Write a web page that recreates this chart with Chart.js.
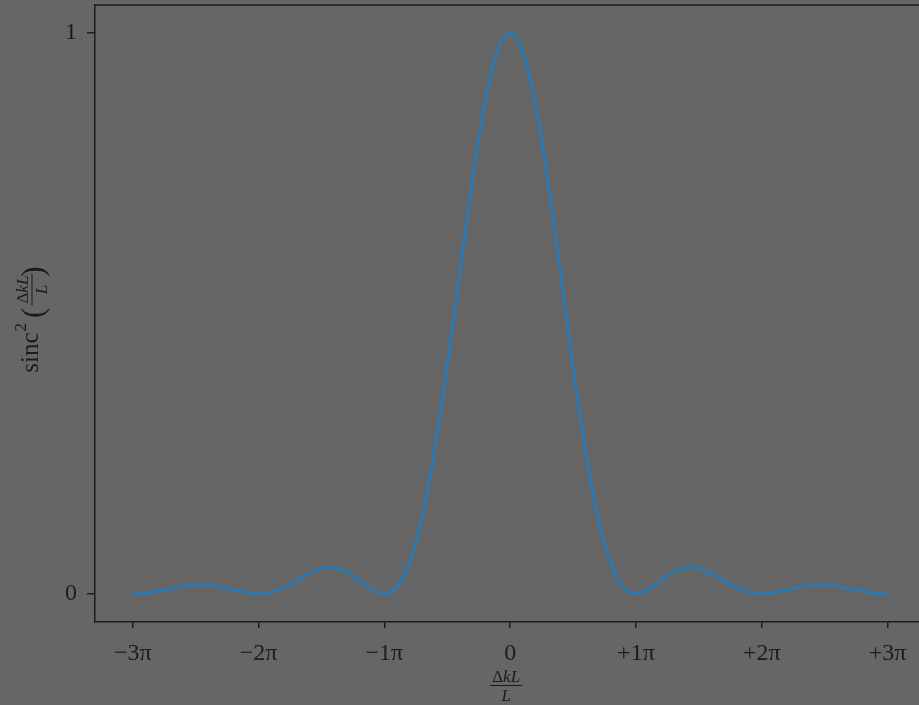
<!DOCTYPE html>
<html>
<head>
<meta charset="utf-8">
<script src="https://cdn.jsdelivr.net/npm/chart.js@4/dist/chart.umd.min.js"></script>
<style>
  html, body { margin: 0; padding: 0; background: #666666; overflow: hidden; }
  canvas { display: block; }
</style>
</head>
<body>
<canvas id="c" width="919" height="705"></canvas>
<script>
// Horizontal position in units of pi
const xPi = [
  -3, -2.875, -2.75, -2.625, -2.5, -2.46, -2.375, -2.25, -2.125,
  -2, -1.875, -1.75, -1.625, -1.5, -1.43, -1.375, -1.25, -1.125,
  -1, -0.875, -0.75, -0.625, -0.5, -0.375, -0.25, -0.125,
  0,
  0.125, 0.25, 0.375, 0.5, 0.625, 0.75, 0.875, 1,
  1.125, 1.25, 1.375, 1.43, 1.5, 1.625, 1.75, 1.875, 2,
  2.125, 2.25, 2.375, 2.46, 2.5, 2.625, 2.75, 2.875, 3
];
// Intensity sinc^2 at each position
const intensity = [
  0, 0.0018, 0.0067, 0.0126, 0.0162, 0.0165, 0.0153, 0.0100, 0.0033,
  0, 0.0042, 0.0165, 0.0328, 0.0450, 0.0472, 0.0457, 0.0324, 0.0117,
  0, 0.0194, 0.0901, 0.2214, 0.4053, 0.6150, 0.8106, 0.9497,
  1,
  0.9497, 0.8106, 0.6150, 0.4053, 0.2214, 0.0901, 0.0194, 0,
  0.0117, 0.0324, 0.0457, 0.0472, 0.0450, 0.0328, 0.0165, 0.0042, 0,
  0.0033, 0.0100, 0.0153, 0.0165, 0.0162, 0.0126, 0.0067, 0.0018, 0
];
const xTickValues = [-3, -2, -1, 0, 1, 2, 3];
const xTickLabels = ['\u22123\u03C0', '\u22122\u03C0', '\u22121\u03C0', '0', '+1\u03C0', '+2\u03C0', '+3\u03C0'];
const yTickValues = [0, 1];
const yTickLabels = ['0', '1'];

const INK = '#1c1c1c';
const SERIF = "'Liberation Serif', 'DejaVu Serif', serif";

// Top frame line plus the typeset axis titles
const framePlugin = {
  id: 'frame',
  afterDraw(chart) {
    const ctx = chart.ctx;
    const a = chart.chartArea;
    ctx.save();
    ctx.strokeStyle = INK;
    ctx.lineWidth = 1.5;
    ctx.beginPath();
    ctx.moveTo(a.left, a.top);
    ctx.lineTo(a.right, a.top);
    ctx.stroke();

    ctx.fillStyle = INK;
    ctx.textBaseline = 'alphabetic';

    // x title: fraction  ΔkL / L
    const cx = chart.scales.x.getPixelForValue(0) - 4;
    drawFraction(ctx, cx, 685.5, 17);

    // y title: sinc^2( ΔkL / L ), rotated
    ctx.translate(38, 0);
    ctx.rotate(-Math.PI / 2);
    const big = '25px ' + SERIF;
    const sup = '17px ' + SERIF;
    const par = '31px ' + SERIF;
    ctx.font = big; const wS = ctx.measureText('sinc').width;
    ctx.font = sup; const w2 = ctx.measureText('2').width;
    ctx.font = par; const wP = ctx.measureText('(').width;
    const wF = fractionWidth(ctx, 17);
    const total = wS + 1 + w2 + 5 + wP + 2 + wF + 2 + wP;
    let u = -317 - total / 2;
    ctx.font = big; ctx.textAlign = 'left';
    ctx.fillText('sinc', u, 0); u += wS + 1;
    ctx.font = sup; ctx.fillText('2', u, -12); u += w2 + 5;
    ctx.font = par; ctx.fillText('(', u, 5); u += wP + 2;
    drawFraction(ctx, u + wF / 2, -6, 17); u += wF + 2;
    ctx.font = par; ctx.fillText(')', u, 5);
    ctx.restore();
  }
};

function numeratorParts(size) {
  return [
    { t: '\u0394', f: size + 'px ' + SERIF },
    { t: 'kL', f: 'italic ' + size + 'px ' + SERIF }
  ];
}
function fractionWidth(ctx, size) {
  let w = 0;
  for (const p of numeratorParts(size)) { ctx.font = p.f; w += ctx.measureText(p.t).width; }
  return w + 4;
}
// Fraction centred at (cx, barY)
function drawFraction(ctx, cx, barY, size) {
  const w = fractionWidth(ctx, size);
  let x = cx - (w - 4) / 2;
  ctx.textAlign = 'left';
  for (const p of numeratorParts(size)) {
    ctx.font = p.f;
    ctx.fillText(p.t, x, barY - 4);
    x += ctx.measureText(p.t).width;
  }
  ctx.save();
  ctx.strokeStyle = INK;
  ctx.lineWidth = 1;
  ctx.beginPath();
  ctx.moveTo(cx - w / 2, barY);
  ctx.lineTo(cx + w / 2, barY);
  ctx.stroke();
  ctx.restore();
  ctx.font = 'italic ' + size + 'px ' + SERIF;
  ctx.textAlign = 'center';
  ctx.fillText('L', cx, barY + 15);
}

new Chart(document.getElementById('c'), {
  type: 'line',
  data: {
    datasets: [{
      data: xPi.map((x, i) => ({ x: x, y: intensity[i] })),
      borderColor: '#2a7ab8',
      borderWidth: 3,
      pointRadius: 0,
      cubicInterpolationMode: 'monotone',
      fill: false
    }]
  },
  options: {
    responsive: false,
    devicePixelRatio: 1,
    animation: false,
    layout: { padding: { top: 5, left: 0, right: 0, bottom: 0 } },
    plugins: { legend: { display: false }, tooltip: { enabled: false } },
    scales: {
      x: {
        type: 'linear',
        min: -3.3,
        max: 3.25,
        afterBuildTicks: s => { s.ticks = xTickValues.map(v => ({ value: v })); },
        afterFit: s => { s.height = 83; s.paddingLeft = 0; s.paddingRight = 0; },
        ticks: {
          autoSkip: false,
          maxRotation: 0,
          padding: 11,
          color: INK,
          font: { family: SERIF, size: 24 },
          callback: (v) => xTickLabels[xTickValues.indexOf(v)]
        },
        grid: { drawOnChartArea: false, drawTicks: true, tickLength: 6, color: INK, lineWidth: 1.5 },
        border: { display: true, color: INK, width: 1.5 }
      },
      y: {
        type: 'linear',
        min: -0.05,
        max: 1.05,
        afterBuildTicks: s => { s.ticks = yTickValues.map(v => ({ value: v })); },
        afterFit: s => { s.width = 95; s.paddingTop = 0; s.paddingBottom = 0; },
        ticks: {
          padding: 10,
          color: INK,
          font: { family: SERIF, size: 24 },
          callback: (v) => yTickLabels[yTickValues.indexOf(v)]
        },
        grid: { drawOnChartArea: false, drawTicks: true, tickLength: 8, color: INK, lineWidth: 1.5 },
        border: { display: true, color: INK, width: 1.5 }
      }
    }
  },
  plugins: [framePlugin]
});
</script>
</body>
</html>
